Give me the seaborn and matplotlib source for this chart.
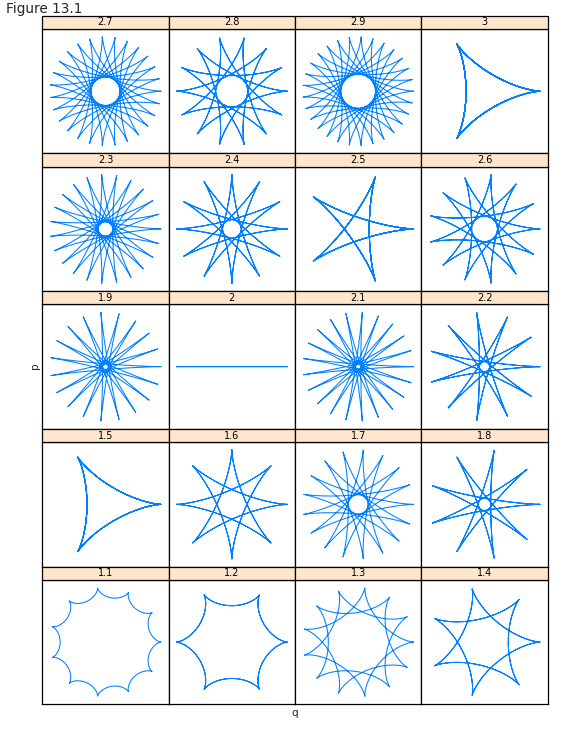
import numpy as np
import pandas as pd
import matplotlib
matplotlib.use("Agg")
import matplotlib.pyplot as plt
from matplotlib.patches import Rectangle
import seaborn as sns

# ---- data: ratio parameter for each panel (as labelled in the strips) ----
ratios = [1.1, 1.2, 1.3, 1.4, 1.5, 1.6, 1.7, 1.8, 1.9, 2.0,
          2.1, 2.2, 2.3, 2.4, 2.5, 2.6, 2.7, 2.8, 2.9, 3.0]
strip_labels = ["1.1", "1.2", "1.3", "1.4", "1.5", "1.6", "1.7", "1.8", "1.9", "2",
                "2.1", "2.2", "2.3", "2.4", "2.5", "2.6", "2.7", "2.8", "2.9", "3"]
line_color = "#0080ff"
strip_color = "#ffe5cc"

# build hypocycloid curves (each closes after 10 turns of the rolling circle)
rows = []
t = np.linspace(0, 20 * np.pi, 6001)
for k, lab in zip(ratios, strip_labels):
    x = (k - 1) * np.cos(t) + np.cos((k - 1) * t)
    y = (k - 1) * np.sin(t) - np.sin((k - 1) * t)
    rows.append(pd.DataFrame({"panel": lab, "k": k, "t": t, "x": x, "y": y}))
df = pd.concat(rows, ignore_index=True)

# lattice draws panels from bottom-left, so the top row holds the last values
order = []
for r in range(4, -1, -1):
    order.extend(strip_labels[r * 4:(r + 1) * 4])

sns.set_style("white")
plt.rcParams["font.family"] = ["DejaVu Sans"]

W, H = 579, 732
g = sns.FacetGrid(df, col="panel", col_order=order, col_wrap=4,
                  sharex=False, sharey=False, despine=False,
                  height=1.3, aspect=1.0)
g.map_dataframe(sns.lineplot, x="x", y="y", sort=False, estimator=None,
                color=line_color, linewidth=0.75)
fig = g.figure
fig.set_size_inches(W / 100, H / 100)
fig.set_dpi(100)

left_px, right_px = 42.3, 547.7
top_px, bottom_px = 15.7, 704.3
strip_px = 13.3
row_px = (bottom_px - top_px) / 5
panel_px = row_px - strip_px

for lab, ax in g.axes_dict.items():
    k = ratios[strip_labels.index(lab)]
    lim = k * 1.14
    ax.set_xlim(-lim, lim)
    ax.set_ylim(-lim, lim)
    ax.set_xticks([])
    ax.set_yticks([])
    ax.set_xlabel("")
    ax.set_ylabel("")
    ax.set_title("")
    for s in ax.spines.values():
        s.set_color("#000000")
        s.set_linewidth(0.9)
    sh = strip_px / panel_px
    ax.add_patch(Rectangle((0, 1), 1, sh, transform=ax.transAxes,
                           facecolor=strip_color, edgecolor="#000000",
                           linewidth=0.9, clip_on=False, zorder=5))
    ax.text(0.5, 1 + sh / 2, lab, transform=ax.transAxes, ha="center",
            va="center", fontsize=7, color="black", zorder=6)

fig.subplots_adjust(left=left_px / W, right=right_px / W,
                    top=1 - (top_px + strip_px) / H, bottom=1 - bottom_px / H,
                    wspace=0, hspace=strip_px / panel_px)

fig.text(6 / W, 1 - 8.5 / H, "Figure 13.1", ha="left", va="center", fontsize=9.8)
fig.text((left_px + right_px) / 2 / W, 1 - 713 / H, "q", ha="center",
         va="center", fontsize=7.5)
fig.text(35 / W, 1 - 366 / H, "p", ha="center", va="center", fontsize=7.5,
         rotation=90)

fig.savefig("out.png", dpi=100)
